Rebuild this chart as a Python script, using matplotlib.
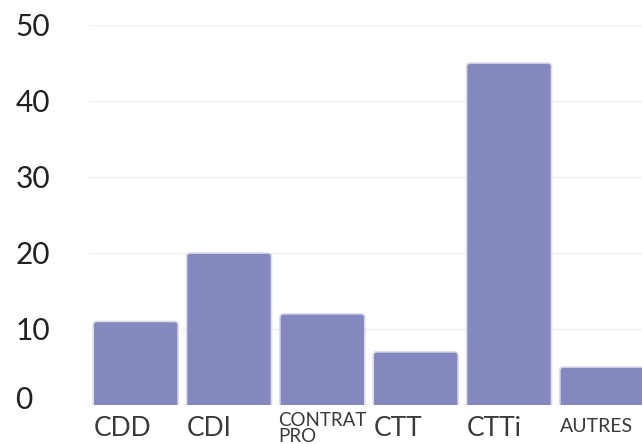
import matplotlib
matplotlib.use("Agg")
import matplotlib.pyplot as plt
from matplotlib.transforms import ScaledTranslation
from matplotlib.patches import FancyBboxPatch

categories = ["CDD", "CDI", "CONTRAT\nPRO", "CTT", "CTTi", "AUTRES"]
values = [11, 20, 12, 7, 45, 5]
yticks = [0, 10, 20, 30, 40, 50]

plt.rcParams['font.family'] = ['Lato', 'DejaVu Sans']

W, H = 642, 444
fig = plt.figure(figsize=(W / 100, H / 100), dpi=100)
left, right = 89, 649
bottom, top = 405, 25
ax = fig.add_axes([left / W, (H - bottom) / H, (right - left) / W, (bottom - top) / H])
ax.set_xlim(-0.5, 5.5)
ax.set_ylim(0, 50)

bar_color = "#8488be"
bars = ax.bar(range(len(values)), values, width=0.91, color=bar_color,
              edgecolor="#dcdce6", linewidth=1.2, zorder=3)
# round top corners (bottom corners pushed below the axis and clipped)
for b in bars:
    x, y, w, h = b.get_x(), b.get_y(), b.get_width(), b.get_height()
    b.set_visible(False)
    p = FancyBboxPatch((x, y - 1.5), w, h + 1.5, boxstyle="round,pad=0,rounding_size=0.04",
                       mutation_aspect=50 / 380 * 560 / 6, facecolor=bar_color,
                       edgecolor="#dcdce6", linewidth=1.2, zorder=3)
    ax.add_patch(p)

for s in ax.spines.values():
    s.set_visible(False)
ax.set_yticks(yticks)
ax.yaxis.grid(True, color="#f0f0f0", linewidth=1.0, zorder=0)
ax.axhline(0, color="#eeeeee", linewidth=1.0, zorder=1)
ax.tick_params(axis="y", length=0, pad=53, labelsize=21.5, labelcolor="#222222")
for lab in ax.get_yticklabels():
    lab.set_horizontalalignment("left")
ylabs = ax.get_yticklabels()
ylabs[0].set_transform(ylabs[0].get_transform() + ScaledTranslation(0, 8 / 100, fig.dpi_scale_trans))

ax.set_xticks(range(len(categories)))
ax.set_xticklabels(categories)
ax.tick_params(axis="x", length=0, pad=8, labelcolor="#3a3a3a")
sizes = [19, 19, 13.5, 19, 19, 14]
dx = [-42, -42, -44, -42, -42, -42]
dy = [0, 0, 4, 0, 0, -2]
for lab, s, ox, oy in zip(ax.get_xticklabels(), sizes, dx, dy):
    lab.set_fontsize(s)
    lab.set_horizontalalignment("left")
    lab.set_multialignment("left")
    lab.set_linespacing(0.95)
    lab.set_transform(lab.get_transform() + ScaledTranslation(ox / 100, oy / 100, fig.dpi_scale_trans))

fig.savefig("out.png", dpi=100)
